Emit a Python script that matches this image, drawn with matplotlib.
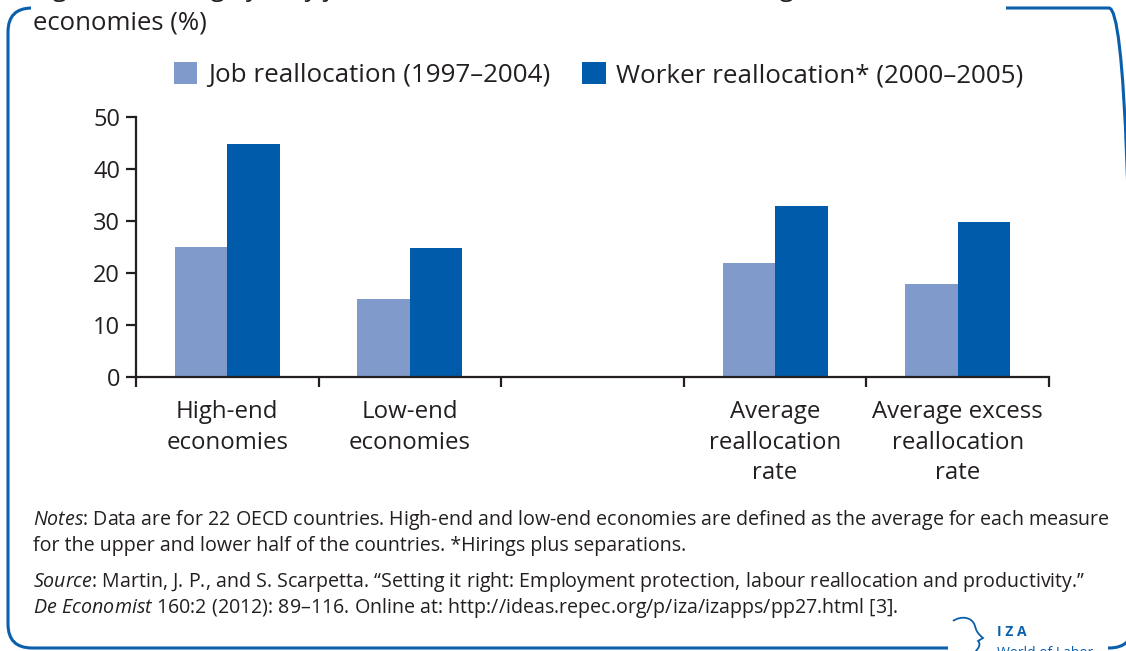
import numpy as np
import matplotlib
matplotlib.use("Agg")
import matplotlib.pyplot as plt
from matplotlib.patches import FancyBboxPatch, Rectangle, PathPatch
from matplotlib.path import Path
from matplotlib.transforms import IdentityTransform

# ---------------- data ----------------
categories = ["High-end\neconomies", "Low-end\neconomies", "",
              "Average\nreallocation\nrate", "Average excess\nreallocation\nrate"]
job_realloc = [25.0, 14.9, np.nan, 21.8, 17.8]
worker_realloc = [44.8, 24.8, np.nan, 32.8, 29.7]
series_labels = ["Job reallocation (1997–2004)", "Worker reallocation* (2000–2005)"]
yticks = [0, 10, 20, 30, 40, 50]

title_line1 = "Figure 1. Average yearly job and worker reallocation rates in high-end and low-end"
title_line2 = "economies (%)"
notes = [
    r"$\it{Notes}$: Data are for 22 OECD countries. High-end and low-end economies are defined as the average for each measure",
    "for the upper and lower half of the countries. *Hirings plus separations.",
    r"$\it{Source}$: Martin, J. P., and S. Scarpetta. “Setting it right: Employment protection, labour reallocation and productivity.”",
    r"$\it{De\ Economist}$ 160:2 (2012): 89–116. Online at: http://ideas.repec.org/p/iza/izapps/pp27.html [3].",
]

# ---------------- style ----------------
FONT = "Open Sans"
TEXT = "#231f20"
LIGHT = "#7f9acb"
DARK = "#005bab"
FRAME = "#0a5fad"

plt.rcParams["font.family"] = [FONT, "DejaVu Sans"]
plt.rcParams["mathtext.fontset"] = "custom"
plt.rcParams["mathtext.rm"] = FONT
plt.rcParams["mathtext.it"] = FONT + ":italic"
plt.rcParams["text.color"] = TEXT

W, H = 1126, 651
fig = plt.figure(figsize=(W / 100, H / 100), dpi=100)


def fx(x):
    return x / W


def fy(y):
    return 1 - y / H


# ---------------- axes ----------------
ax = fig.add_axes([fx(136), fy(376.5), fx(1049) - fx(136), fy(116.7) - fy(376.5)])
x = np.arange(len(categories))
bw = 0.288
ax.bar(x - bw / 2, job_realloc, bw, color=LIGHT, label=series_labels[0], zorder=2)
ax.bar(x + bw / 2, worker_realloc, bw, color=DARK, label=series_labels[1], zorder=2)
ax.set_xlim(-0.5, len(categories) - 0.5)
ax.set_ylim(0, 50)

for s in ["top", "right"]:
    ax.spines[s].set_visible(False)
for s in ["left", "bottom"]:
    ax.spines[s].set_color(TEXT)
    ax.spines[s].set_linewidth(1.6)
    ax.spines[s].set_zorder(3)

ax.set_yticks(yticks)
ax.set_yticklabels([str(t) for t in yticks])
ax.tick_params(axis="y", direction="out", length=7.5, width=1.6, color=TEXT,
               labelsize=17, labelcolor=TEXT, pad=4)

ax.set_xticks(np.arange(-0.5, len(categories), 1.0))
ax.set_xticklabels([])
ax.set_xticks(x, minor=True)
ax.set_xticklabels(categories, minor=True, fontsize=17.3, color=TEXT, linespacing=1.36)
ax.tick_params(axis="x", which="major", direction="out", length=7.5, width=1.6, color=TEXT)
ax.tick_params(axis="x", which="minor", length=0, pad=17)

# ---------------- legend ----------------
fig.legend(loc="center left", bbox_to_anchor=(fx(174), fy(75)), ncol=2, frameon=False,
           fontsize=18.7, handlelength=0.9, handleheight=0.95, handletextpad=0.4,
           columnspacing=1.25, borderpad=0, borderaxespad=0)

# ---------------- frame ----------------
ident = IdentityTransform()
frame = FancyBboxPatch((8, 3), 1133 - 8, 643 - 3, boxstyle="round,pad=0,rounding_size=24",
                       transform=ident, fill=False, ec=FRAME, lw=2.2, zorder=1)
fig.add_artist(frame)
fig.add_artist(Rectangle((31, 636), 975, 20, transform=ident, fc="white", ec="none", zorder=2))
fig.add_artist(Rectangle((948, -5), 160, 14, transform=ident, fc="white", ec="none", zorder=2))

# logo (head outline + IZA text)
def P(xi, yi):
    return (xi, H - yi)


verts = [P(953, 621), P(960, 616), P(972, 616), P(975, 626),
         P(976, 630), P(977, 633), P(983, 638),
         P(978, 641),
         P(981, 644), P(979, 648), P(975, 652)]
codes = [Path.MOVETO, Path.CURVE4, Path.CURVE4, Path.CURVE4,
         Path.CURVE4, Path.CURVE4, Path.CURVE4,
         Path.LINETO,
         Path.CURVE4, Path.CURVE4, Path.CURVE4]
fig.add_artist(PathPatch(Path(verts, codes), transform=ident, fill=False, ec=FRAME, lw=1.3, zorder=3))
fig.text(fx(997), fy(632), "I Z A", fontsize=10, fontweight="bold", color=FRAME, va="center", zorder=3)
fig.text(fx(997), fy(646), "World of Labor", fontsize=10, color=FRAME, va="top", zorder=3)

# ---------------- titles / notes ----------------
fig.text(fx(33), fy(-4), title_line1, fontsize=18.5, va="baseline", zorder=3)
fig.text(fx(33), fy(29), title_line2, fontsize=18.5, va="baseline", zorder=3)

note_y = [520, 546, 582, 608]
for line, yy in zip(notes, note_y):
    fig.text(fx(33), fy(yy), line, fontsize=14.1, va="center", zorder=3)

fig.savefig("out.png", dpi=100)
